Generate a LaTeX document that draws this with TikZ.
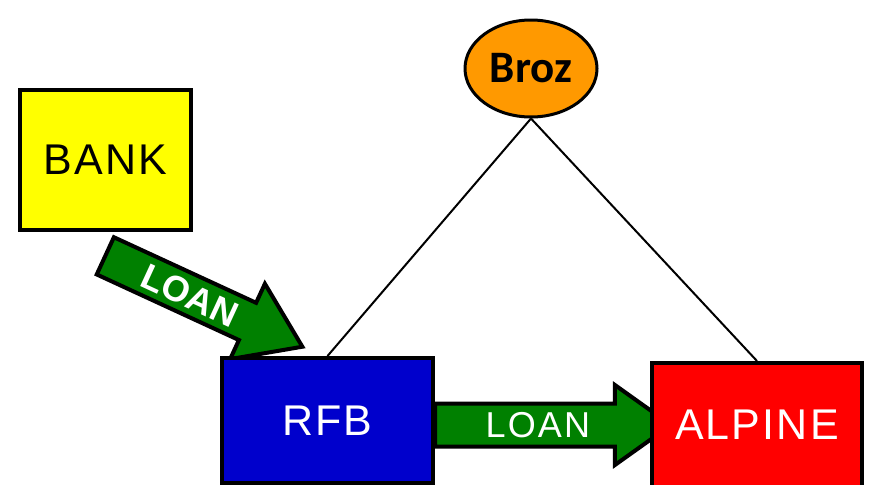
\documentclass[tikz,border=0pt]{standalone}
\usepackage{fontspec}
\setmainfont{Liberation Sans}
\newfontfamily\boxfont[LetterSpace=5]{Liberation Sans}
\newfontfamily\loanfont[LetterSpace=6]{Liberation Sans}
\newfontfamily\brozfont{Carlito}
\usetikzlibrary{shapes.geometric,shapes.arrows}
\definecolor{bankyellow}{HTML}{FFFF00}
\definecolor{rfbblue}{HTML}{0000CC}
\definecolor{alpred}{HTML}{FF0000}
\definecolor{brozorange}{HTML}{FF9900}
\definecolor{loangreen}{HTML}{008000}
\begin{document}
\begin{tikzpicture}[x=1pt, y=-1pt,
    party/.style={draw, line width=4pt, inner sep=0pt, font=\boxfont\fontsize{43}{43}\selectfont},
    loanarrow/.style={single arrow, draw, fill=loangreen, line width=4pt, inner sep=0pt, text=white, anchor=tail}]
    \useasboundingbox (0,0) rectangle (871,485);

    \node[loanarrow, minimum height=236pt, single arrow head extend=18.5pt, single arrow tip angle=71,
          text height=32pt, text depth=7pt, font=\loanfont\fontsize{36}{36}\selectfont] (hloan) at (433,425) {LOAN};
    \node[loanarrow, minimum height=217pt, single arrow head extend=21pt, single arrow tip angle=69,
          rotate=-24.76, text height=31.4pt, text depth=5.6pt, font=\fontsize{36}{36}\selectfont\bfseries] (dloan) at (103.5,255) {LOAN};

    \node[party, fill=bankyellow, minimum width=171pt, minimum height=140pt] (bank) at (105.5,160) {BANK};
    \node[party, fill=rfbblue, text=white, minimum width=211pt, minimum height=125pt] (rfb) at (327.5,420.5) {RFB};
    \node[party, fill=alpred, text=white, minimum width=210pt, minimum height=124pt] (alpine) at (757,425) {ALPINE};
    \node[ellipse, draw, line width=3pt, fill=brozorange, minimum width=132pt, minimum height=97pt, inner sep=0pt,
          font=\brozfont\bfseries\fontsize{45}{45}\selectfont] (broz) at (531,68.5) {Broz};

    \draw[line width=2pt] (broz.south) -- (rfb.north);
    \draw[line width=2pt] (broz.south) -- (alpine.north);
\end{tikzpicture}
\end{document}
